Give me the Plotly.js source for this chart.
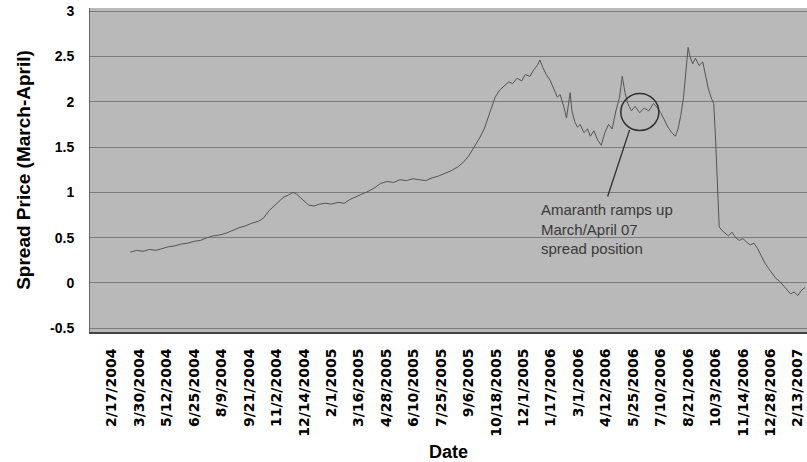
<!DOCTYPE html>
<html>
<head>
<meta charset="utf-8">
<script src="https://cdn.plot.ly/plotly-3.0.1.min.js"></script>
<style>html,body{margin:0;padding:0;background:#fff;}#chart{width:807px;height:462px;}</style>
</head>
<body>
<div id="chart"></div>
<script>
// Trading-day index (0 = 2/17/2004, one tick every 30 trading days)
const day = [20,27,34,41,48,55,62,69,76,83,90,97,104,111,118,125,132,139,146,153,160,166,172,178,184,188,193,198,202,206,210,215,221,227,233,240,247,254,260,266,273,280,287,294,301,308,315,322,329,336,343,350,357,364,371,378,384,390,396,402,407,411,415,419,424,429,434,438,443,448,452,457,461,465,468,471,475,479,483,487,490,494,497,499,501,503,506,509,512,516,520,523,527,531,535,539,543,547,551,555,558,561,564,568,572,577,582,587,592,596,600,604,608,612,616,619,622,625,628,630,632,635,638,642,646,649,652,655,658,660,662,664,667,670,674,678,682,686,690,694,698,702,706,710,714,718,722,726,730,734,738,742,746,750,754,758];
const spread = [0.34,0.36,0.35,0.37,0.36,0.38,0.40,0.41,0.43,0.44,0.46,0.47,0.50,0.52,0.53,0.55,0.58,0.61,0.63,0.66,0.68,0.72,0.80,0.86,0.92,0.95,0.97,1.00,0.98,0.94,0.90,0.86,0.85,0.87,0.88,0.87,0.89,0.88,0.92,0.95,0.98,1.01,1.05,1.10,1.12,1.11,1.14,1.13,1.15,1.14,1.13,1.16,1.18,1.21,1.24,1.28,1.33,1.40,1.50,1.60,1.70,1.82,1.95,2.05,2.13,2.18,2.22,2.20,2.26,2.23,2.30,2.28,2.35,2.40,2.46,2.38,2.30,2.24,2.15,2.05,2.08,1.95,1.82,1.95,2.10,1.90,1.78,1.72,1.75,1.66,1.70,1.62,1.68,1.58,1.52,1.66,1.75,1.70,1.90,2.05,2.28,2.10,1.98,1.90,1.95,1.88,1.93,1.90,1.98,1.94,1.88,1.80,1.72,1.66,1.62,1.70,1.85,2.05,2.35,2.60,2.50,2.42,2.48,2.40,2.44,2.30,2.15,2.05,1.98,1.60,1.00,0.62,0.58,0.55,0.52,0.56,0.50,0.47,0.49,0.45,0.42,0.44,0.38,0.30,0.22,0.16,0.10,0.05,0.02,-0.03,-0.08,-0.12,-0.10,-0.14,-0.08,-0.05];

const tickDays = [0,30,60,90,120,150,180,210,240,270,300,330,360,390,420,450,480,510,540,570,600,630,660,690,720,750];
const tickLabels = ["2/17/2004","3/30/2004","5/12/2004","6/25/2004","8/9/2004","9/21/2004","11/2/2004","12/14/2004","2/1/2005","3/16/2005","4/28/2005","6/10/2005","7/25/2005","9/6/2005","10/18/2005","12/1/2005","1/17/2006","3/1/2006","4/12/2006","5/25/2006","7/10/2006","8/21/2006","10/3/2006","11/14/2006","12/28/2006","2/13/2007"];
const yTicks = [-0.5,0,0.5,1,1.5,2,2.5,3];

const noteText = "Amaranth ramps up<br>March/April 07<br>spread position";

const trace = {
  x: day, y: spread, type: 'scatter', mode: 'lines',
  line: {color: '#555555', width: 1}, hoverinfo: 'skip', showlegend: false
};

const layout = {
  width: 807, height: 462,
  margin: {l: 90, r: 0, t: 8, b: 130},
  paper_bgcolor: '#ffffff',
  plot_bgcolor: '#b9b9b9',
  font: {family: 'Liberation Sans, Arial, sans-serif', color: '#000'},
  xaxis: {
    range: [-24, 760], tickmode: 'array', tickvals: tickDays, ticktext: tickLabels,
    tickangle: -90, showgrid: false, zeroline: false, ticks: '',
    ticklabelstandoff: 9,
    tickfont: {family: 'DejaVu Sans, sans-serif', size: 14, color: '#000', weight: 'bold'},
    showline: true, linecolor: '#444', linewidth: 2,
    title: {text: '<b>Date</b>', font: {size: 18, family: 'Liberation Sans, Arial, sans-serif'}, standoff: 12}
  },
  yaxis: {
    range: [-0.541, 3.035], tickmode: 'array', tickvals: yTicks,
    ticktext: yTicks.map(v => String(v)),
    showgrid: true, gridcolor: '#7c7c7c', gridwidth: 1, zeroline: false, ticks: '',
    ticklabelstandoff: 12,
    tickfont: {size: 14, color: '#000', weight: 'bold'},
    showline: true, linecolor: '#666', linewidth: 1,
    title: {text: '<b>Spread Price (March-April)</b>', font: {size: 19}, standoff: 14}
  },
  shapes: [
    {type: 'circle', xref: 'x', yref: 'y', x0: 556.4, x1: 598, y0: 1.683, y1: 2.09,
     line: {color: '#2e2e2e', width: 1.5}},
    {type: 'line', xref: 'x', yref: 'y', x0: 542, y0: 0.955, x1: 566, y1: 1.69,
     line: {color: '#2e2e2e', width: 1.3}}
  ],
  annotations: [
    {x: 467, y: 0.93, xref: 'x', yref: 'y', text: noteText, showarrow: false,
     xanchor: 'left', yanchor: 'top', align: 'left',
     font: {size: 15, color: '#3a3a3a', family: 'Liberation Sans, Arial, sans-serif'}}
  ]
};

Plotly.newPlot('chart', [trace], layout, {displayModeBar: false, staticPlot: true});
</script>
</body>
</html>
